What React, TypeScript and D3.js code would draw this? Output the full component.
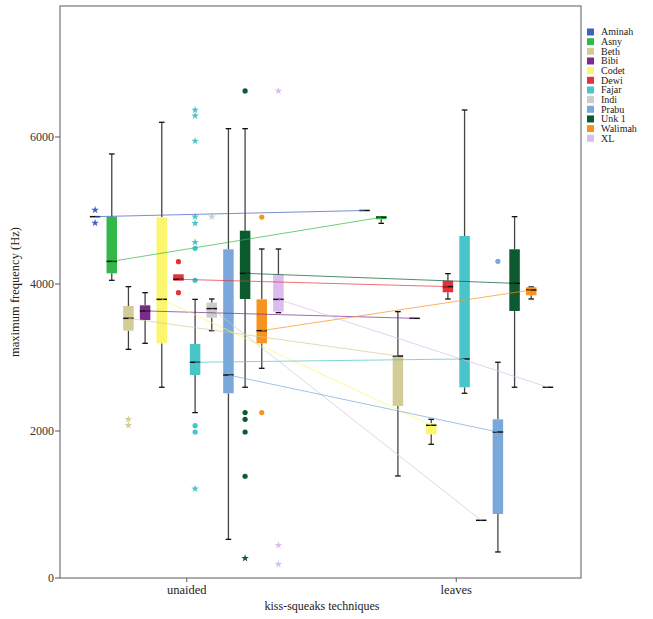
import React from "react";
import * as d3 from "d3";

const names = ["Aminah", "Asny", "Beth", "Bibi", "Codet", "Dewi", "Fajar", "Indi", "Prabu", "Unk 1", "Walimah", "XL"];
const colors = ["#4060c0", "#35b84a", "#d3cc98", "#7a2b8c", "#fbf66e", "#e6333b", "#48c5c8", "#cccccc", "#7aa8da", "#0c5a2f", "#f6941f", "#dcbcf0"];
const techniques = ["unaided", "leaves"];
const yTicks = [0, 2000, 4000, 6000];

// [lower whisker, q1, median, q3, upper whisker]
const unaidedStats = [
  [4916, 4916, 4916, 4916, 4916],
  [4050, 4145, 4308, 4916, 5769],
  [3111, 3365, 3533, 3701, 3964],
  [3193, 3510, 3633, 3710, 3882],
  [2595, 3193, 3791, 4907, 6200],
  [4045, 4045, 4064, 4132, 4132],
  [2250, 2762, 2935, 3184, 3791],
  [3365, 3542, 3665, 3746, 3796],
  [526, 2513, 2762, 4472, 6113],
  [2595, 3796, 4145, 4725, 6113],
  [2853, 3193, 3365, 3791, 4476],
  [3610, 3624, 3791, 4132, 4476],
];
const leavesStats = [
  [5000, 5000, 5000, 5000, 5000],
  [4825, 4880, 4907, 4925, 4925],
  [1388, 2340, 3020, 3020, 3624],
  [3533, 3533, 3533, 3533, 3533],
  [1819, 1955, 2078, 2104, 2159],
  [3796, 3887, 3964, 4045, 4141],
  [2513, 2595, 2980, 4653, 6367],
  [785, 785, 785, 785, 785],
  [354, 871, 1986, 2159, 2935],
  [2595, 3633, 4009, 4472, 4916],
  [3796, 3846, 3918, 3955, 3960],
  [2595, 2595, 2595, 2595, 2595],
];
const unaidedCircles = [[], [], [], [], [], [4304, 3882], [4485, 4050, 2073, 1986], [], [], [6626, 2250, 2159, 1986, 1384], [4911, 2250], []];
const unaidedStars = [[5007, 4830], [], [2159, 2078], [], [], [], [6367, 6290, 5946, 4916, 4825, 4567, 1215], [4916], [], [268], [], [6626, 445, 186]];
const leavesCircles = [[], [], [], [], [], [], [], [], [4308], [], [], []];
const leavesStars = [[], [], [], [], [], [], [], [], [], [], [], []];

const W = 653, H = 619;
const L = 60, R = 581, T = 6, B = 578;
const FONT = "'Liberation Serif', 'Times New Roman', serif";

export default function App() {
  const x = d3.scalePoint<string>().domain(techniques).range([62, R]).padding(0.463);
  const inner = d3.scaleBand<string>().domain(names).range([-100, 100]).paddingInner(0.37).paddingOuter(0.185);
  const y = d3.scaleLinear().domain([0, 7782]).range([B, T]);
  const bw = inner.bandwidth();
  const star = d3.symbol().type(d3.symbolStar).size(18)();

  const statsBy = [unaidedStats, leavesStats];
  const circlesBy = [unaidedCircles, leavesCircles];
  const starsBy = [unaidedStars, leavesStars];
  const cx = (ti: number, i: number) => (x(techniques[ti]) as number) + (inner(names[i]) as number) + bw / 2;

  return (
    <svg width={W} height={H} style={{ position: "absolute", left: 0, top: 0, background: "#fff" }} fontFamily={FONT}>
      <rect x={L} y={T} width={R - L} height={B - T} fill="none" stroke="#777" strokeWidth={1.2} />
      {/* y axis */}
      {yTicks.map((t) => (
        <g key={t}>
          <line x1={L - 5} x2={L} y1={y(t)} y2={y(t)} stroke="#555" />
          <text x={L - 6} y={y(t)} dy="0.35em" textAnchor="end" fontSize={12} fill="#333">{t}</text>
        </g>
      ))}
      <text transform={`translate(15,292) rotate(-90)`} textAnchor="middle" dy="0.35em" fontSize={12.5} fill="#222">maximum frequency (Hz)</text>
      {/* x axis */}
      {techniques.map((t) => (
        <g key={t}>
          <line x1={x(t)} x2={x(t)} y1={B} y2={B + 4} stroke="#555" />
          <text x={x(t)} y={B + 16} textAnchor="middle" fontSize={12.5} fill="#222">{t}</text>
        </g>
      ))}
      <text x={322} y={610} textAnchor="middle" fontSize={12} fill="#222">kiss-squeaks techniques</text>

      {/* boxes */}
      {statsBy.map((stats, ti) =>
        stats.map((s, i) => {
          const c = cx(ti, i);
          const [lo, q1, med, q3, hi] = s;
          return (
            <g key={`${ti}-${i}`}>
              <line x1={c} x2={c} y1={y(hi)} y2={y(q3)} stroke="#444" strokeWidth={1.3} />
              <line x1={c} x2={c} y1={y(q1)} y2={y(lo)} stroke="#444" strokeWidth={1.3} />
              {hi !== q3 && <line x1={c - 2.8} x2={c + 2.8} y1={y(hi)} y2={y(hi)} stroke="#111" strokeWidth={1.3} />}
              {lo !== q1 && <line x1={c - 2.8} x2={c + 2.8} y1={y(lo)} y2={y(lo)} stroke="#111" strokeWidth={1.3} />}
              <rect x={c - bw / 2} y={y(q3)} width={bw} height={Math.max(0, y(q1) - y(q3))} fill={colors[i]} />
              <line x1={c - bw / 2} x2={c + bw / 2} y1={y(med)} y2={y(med)} stroke="#111" strokeWidth={1.5} />
            </g>
          );
        })
      )}

      {/* outliers */}
      {circlesBy.map((cs, ti) =>
        cs.map((vals, i) =>
          vals.map((v, k) => <circle key={`c${ti}-${i}-${k}`} cx={cx(ti, i)} cy={y(v)} r={2.6} fill={colors[i]} />)
        )
      )}
      {starsBy.map((ss, ti) =>
        ss.map((vals, i) =>
          vals.map((v, k) => (
            <path key={`s${ti}-${i}-${k}`} d={star as string} transform={`translate(${cx(ti, i)},${y(v)})`} fill={colors[i]} />
          ))
        )
      )}

      {/* connecting median lines */}
      {names.map((n, i) => (
        <line key={`l${n}`} x1={cx(0, i)} y1={y(unaidedStats[i][2])} x2={cx(1, i)} y2={y(leavesStats[i][2])} stroke={colors[i]} strokeWidth={1} strokeOpacity={0.7} />
      ))}

      {/* legend */}
      {names.map((n, i) => (
        <g key={`lg${n}`} transform={`translate(587,${32 + i * 9.66})`}>
          <rect x={0} y={-3.5} width={7} height={7} fill={colors[i]} />
          <text x={14} y={0} dy="0.33em" fontSize={10} fill="#222">{n}</text>
        </g>
      ))}
    </svg>
  );
}
